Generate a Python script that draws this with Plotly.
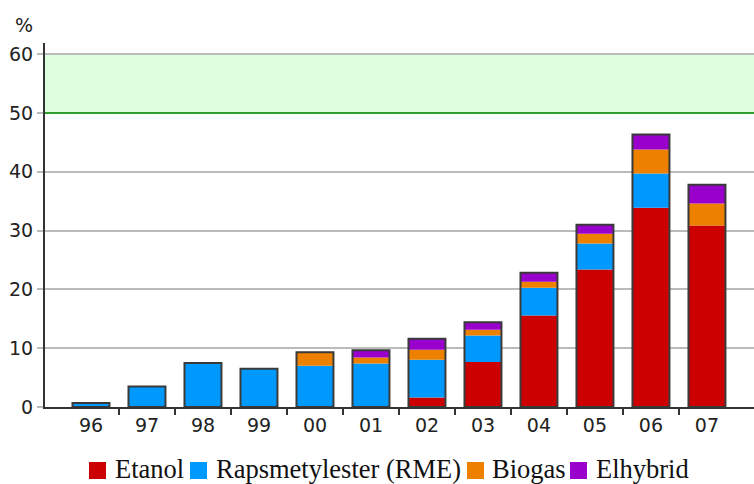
import plotly.graph_objects as go

years = ["96", "97", "98", "99", "00", "01", "02", "03", "04", "05", "06", "07"]
etanol = [0, 0, 0, 0, 0, 0, 1.6, 7.65, 15.55, 23.4, 33.9, 30.85]
rme = [0.7, 3.5, 7.5, 6.5, 7.0, 7.4, 6.45, 4.5, 4.75, 4.4, 5.8, 0]
biogas = [0, 0, 0, 0, 2.3, 1.0, 1.7, 1.0, 1.0, 1.65, 4.1, 3.75]
elhybrid = [0, 0, 0, 0, 0, 1.25, 1.85, 1.25, 1.55, 1.55, 2.55, 3.2]
target_low, target_high = 50, 60
yticks = [0, 10, 20, 30, 40, 50, 60]

series_names = ["Etanol", "Rapsmetylester (RME)", "Biogas", "Elhybrid"]
series_values = [etanol, rme, biogas, elhybrid]
series_colors = ["#CC0000", "#0099FF", "#EE8000", "#9900CC"]

# layout geometry (pixels)
W, H = 754, 484
ML, MR, MT, MB = 45, 0, 43, 77
PW, PH = W - ML - MR, H - MT - MB

def px_x(p):
    return (p - ML) / PW

def px_y(p):
    return (H - MB - p) / PH

xs = list(range(len(years)))
fig = go.Figure()
base = [0.0] * len(years)
for name, vals, color in zip(series_names, series_values, series_colors):
    fig.add_trace(go.Bar(x=xs, y=vals, base=list(base), width=0.66,
                         marker=dict(color=color, line=dict(width=0)),
                         showlegend=False, name=name))
    base = [b + v for b, v in zip(base, vals)]
# outline around each stack
fig.add_trace(go.Bar(x=xs, y=base, base=[0] * len(years), width=0.66,
                     marker=dict(color="rgba(0,0,0,0)", line=dict(color="#3a3a3a", width=2)),
                     showlegend=False, hoverinfo="skip"))

fig.add_shape(type="rect", xref="paper", x0=0, x1=1, yref="y", y0=target_low, y1=target_high,
              fillcolor="#DDFFDD", line=dict(width=0), layer="below")
fig.add_shape(type="line", xref="paper", x0=0, x1=1, yref="y", y0=target_low, y1=target_low,
              line=dict(color="#2E9E2E", width=2), layer="above")

fig.add_annotation(text="%", xref="paper", yref="paper", x=px_x(24), y=px_y(25),
                   xanchor="center", yanchor="middle", showarrow=False,
                   font=dict(family="DejaVu Sans", size=19, color="#222"))

# legend (manual, to match item spacing)
legend_square_x = [89, 190, 467, 570]
legend_text_x = [113, 214, 490, 594]
for name, color, sx, tx in zip(series_names, series_colors, legend_square_x, legend_text_x):
    fig.add_shape(type="rect", xref="paper", yref="paper",
                  x0=px_x(sx), x1=px_x(sx + 17), y0=px_y(479), y1=px_y(462),
                  fillcolor=color, line=dict(width=0))
    fig.add_annotation(text=name, xref="paper", yref="paper", x=px_x(tx), y=px_y(469),
                       xanchor="left", yanchor="middle", showarrow=False,
                       font=dict(family="Liberation Serif", size=26.5, color="#111"))

fig.update_layout(
    width=W, height=H,
    margin=dict(l=ML, r=MR, t=MT, b=MB),
    plot_bgcolor="white", paper_bgcolor="white",
    barmode="overlay", showlegend=False,
    font=dict(family="DejaVu Sans", size=19, color="#222"),
    xaxis=dict(range=[-0.821, 11.84], tickvals=xs, ticktext=years, ticks="",
               showgrid=False, zeroline=False, showline=True, linecolor="#333", linewidth=2,
               minor=dict(tickvals=[i + 0.5 for i in xs[:-1]], ticks="outside", ticklen=6,
                          tickwidth=2, tickcolor="#333", showgrid=False)),
    yaxis=dict(range=[0, 61.9], tickvals=yticks, ticks="outside", ticklen=6, tickwidth=2,
               tickcolor="#BBBBBB", showgrid=True, gridcolor="#BBBBBB", gridwidth=2,
               zeroline=False, showline=True, linecolor="#333", linewidth=2),
)

fig.write_html("out.html")
